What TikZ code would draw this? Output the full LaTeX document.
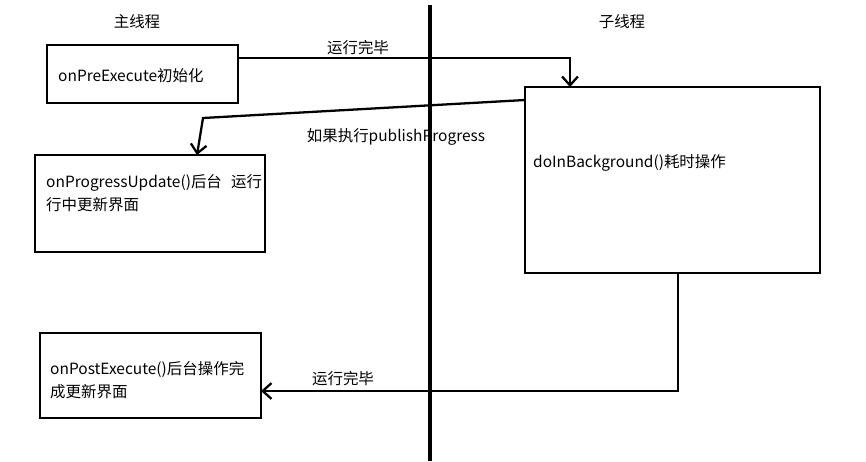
\documentclass[tikz,border=0pt]{standalone}
\usepackage{fontspec}
\setmainfont{Noto Sans CJK SC}
\usetikzlibrary{arrows.meta}
\tikzstyle{box}=[draw=black,line width=1.2pt,inner sep=0pt]
\tikzstyle{txt}=[font=\fontsize{8.8}{13.5}\selectfont,align=left,anchor=west]
\tikzstyle{edge}=[draw=black,line width=1.3pt,-{Straight Barb[length=5pt,width=9pt]}]
\begin{document}
\begin{tikzpicture}[x=0.02cm,y=-0.02cm]
\useasboundingbox (0,0) rectangle (866,461);
\draw[line width=1.8pt] (430,5)--(430,461);
\node[txt,anchor=center] (mainlbl) at ( 137 , 22 ){主线程};
\node[txt,anchor=center] (sublbl) at ( 622 , 22 ){子线程};
\draw[box] ( 47 , 45 ) rectangle ( 238 , 103 );
\node[txt] (pre) at ( 52 , 76 ){onPreExecute初始化};
\draw[box] ( 35 , 155 ) rectangle ( 265 , 252 );
\node[txt] (upd) at ( 40 , 193 ){onProgressUpdate()后台\hspace{0.6em}运行\\行中更新界面};
\draw[box] ( 40 , 333 ) rectangle ( 261 , 418 );
\node[txt] (post) at ( 44 , 380 ){onPostExecute()后台操作完\\成更新界面};
\draw[box] ( 525 , 87 ) rectangle ( 820 , 273 );
\node[txt] (bg) at ( 527 , 163 ){doInBackground()耗时操作};
\coordinate (p1) at ( 238 , 58 );
\coordinate (p2) at ( 570 , 58 );
\coordinate (p3) at ( 570 , 87 );
\draw[edge] (p1)--(p2)--(p3);
\node[txt,anchor=center] (done1) at ( 358 , 48 ){运行完毕};
\coordinate (q1) at ( 525 , 100 );
\coordinate (q2) at ( 203 , 118 );
\coordinate (q3) at ( 197 , 155 );
\draw[edge] (q1)--(q2)--(q3);
\node[txt,anchor=center] (pub) at ( 396 , 137 ){如果执行publishProgress};
\coordinate (r1) at ( 678 , 273 );
\coordinate (r2) at ( 678 , 391 );
\coordinate (r3) at ( 261 , 391 );
\draw[edge] (r1)--(r2)--(r3);
\node[txt,anchor=center] (done2) at ( 343 , 379 ){运行完毕};
\end{tikzpicture}
\end{document}
